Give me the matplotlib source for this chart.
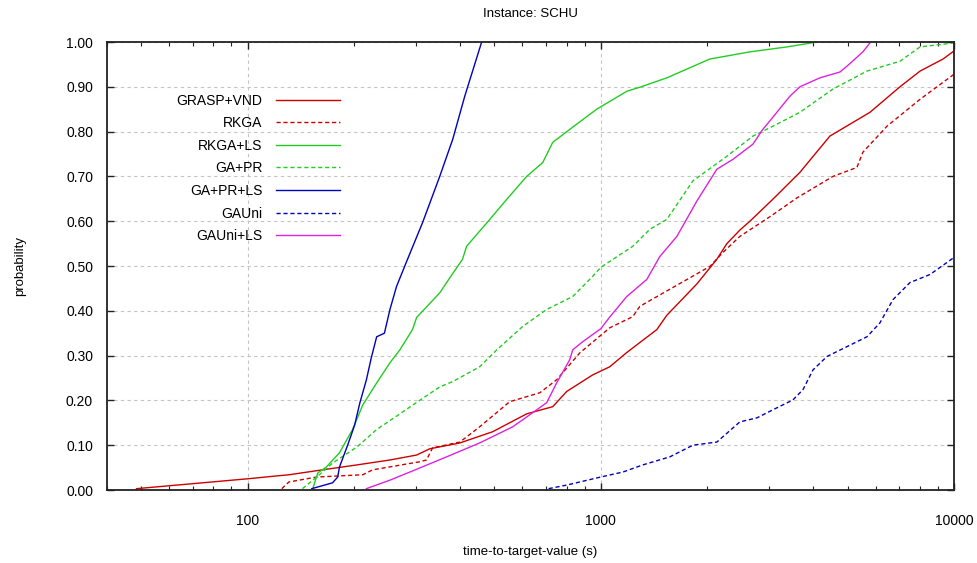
import matplotlib
matplotlib.use("Agg")
import matplotlib.pyplot as plt
from matplotlib.ticker import LogLocator, FixedLocator, FixedFormatter, NullFormatter, FormatStrFormatter

plt.rcParams["font.family"] = ["Liberation Sans", "DejaVu Sans"]

# time-to-target (s) and cumulative probability
grasp_vnd_t = [48.5, 100, 123, 131, 163, 204, 253, 301, 328, 399, 494, 617, 731, 801, 949,
               1060, 1185, 1441, 1538, 1871, 2131, 2275, 2475, 2644, 3070, 3662, 4453,
               5781, 7031, 8012, 9310, 10000]
grasp_vnd_p = [0.003, 0.025, 0.032, 0.034, 0.045, 0.056, 0.067, 0.078, 0.092, 0.105, 0.13,
               0.17, 0.186, 0.22, 0.257, 0.275, 0.307, 0.358, 0.39, 0.46, 0.515, 0.55,
               0.58, 0.60, 0.649, 0.709, 0.79, 0.843, 0.90, 0.935, 0.962, 0.98]

rkga_t = [125, 131, 157, 212, 226, 307, 321, 334, 399, 454, 552, 672, 750, 872, 1060, 1232,
          1290, 1600, 2036, 2216, 2475, 3012, 3592, 4543, 5311, 5522, 6459, 8012, 8948, 10000]
rkga_p = [0.003, 0.018, 0.029, 0.034, 0.045, 0.063, 0.067, 0.094, 0.107, 0.141, 0.197, 0.217,
          0.246, 0.306, 0.362, 0.387, 0.41, 0.452, 0.499, 0.53, 0.566, 0.61, 0.652, 0.70,
          0.72, 0.754, 0.812, 0.872, 0.90, 0.928]

rkga_ls_t = [153, 158, 167, 182, 198, 212, 232, 253, 270, 293, 301, 350, 374, 406, 417, 485,
             542, 617, 685, 731, 833, 974, 1185, 1290, 1538, 2036, 2644, 3365, 4093]
rkga_ls_p = [0.003, 0.038, 0.051, 0.083, 0.134, 0.19, 0.239, 0.284, 0.313, 0.358, 0.385, 0.44,
             0.474, 0.515, 0.544, 0.604, 0.649, 0.70, 0.731, 0.776, 0.81, 0.85, 0.89, 0.899,
             0.92, 0.962, 0.978, 0.989, 1.0]

ga_pr_t = [143, 157, 174, 204, 232, 270, 307, 350, 381, 454, 508, 601, 703, 833, 949, 1000,
           1232, 1377, 1538, 1823, 2275, 2696, 3070, 3662, 4543, 5669, 7031, 8012, 10000]
ga_pr_p = [0.003, 0.029, 0.06, 0.096, 0.135, 0.17, 0.20, 0.23, 0.242, 0.275, 0.313, 0.365,
           0.403, 0.432, 0.477, 0.497, 0.544, 0.582, 0.604, 0.69, 0.745, 0.79, 0.812, 0.843,
           0.895, 0.935, 0.957, 0.989, 0.998]

ga_pr_ls_t = [152, 174, 180, 182, 192, 201, 208, 217, 224, 232, 244, 253, 264, 282, 313, 350,
              381, 412, 460]
ga_pr_ls_p = [0.003, 0.016, 0.029, 0.051, 0.10, 0.145, 0.195, 0.246, 0.295, 0.342, 0.35,
              0.403, 0.454, 0.51, 0.597, 0.70, 0.783, 0.879, 1.0]

gauni_t = [712, 801, 1000, 1154, 1315, 1569, 1823, 2131, 2475, 2767, 3070, 3499, 3736, 3988,
           4368, 4977, 5669, 6169, 6719, 7505, 8549, 10000]
gauni_p = [0.003, 0.011, 0.029, 0.04, 0.056, 0.074, 0.10, 0.107, 0.152, 0.161, 0.179, 0.201,
           0.224, 0.268, 0.298, 0.32, 0.342, 0.373, 0.425, 0.463, 0.481, 0.519]

gauni_ls_t = [217, 253, 307, 366, 454, 563, 617, 703, 750, 817, 833, 889, 1000, 1060, 1185,
              1350, 1469, 1642, 1871, 2131, 2366, 2696, 2876, 3070, 3431, 3662, 4173, 4754,
              4977, 5522, 5781]
gauni_ls_p = [0.003, 0.022, 0.049, 0.074, 0.105, 0.141, 0.163, 0.195, 0.239, 0.291, 0.313,
              0.331, 0.36, 0.386, 0.432, 0.47, 0.521, 0.566, 0.645, 0.716, 0.738, 0.772, 0.805,
              0.832, 0.879, 0.90, 0.92, 0.933, 0.946, 0.978, 0.998]

series = [
    ("GRASP+VND", grasp_vnd_t, grasp_vnd_p, "#cc0000", "-"),
    ("RKGA", rkga_t, rkga_p, "#cc0000", (0, (3, 2))),
    ("RKGA+LS", rkga_ls_t, rkga_ls_p, "#22cc22", "-"),
    ("GA+PR", ga_pr_t, ga_pr_p, "#22cc22", (0, (3, 2))),
    ("GA+PR+LS", ga_pr_ls_t, ga_pr_ls_p, "#0000bb", "-"),
    ("GAUni", gauni_t, gauni_p, "#0000bb", (0, (3, 2))),
    ("GAUni+LS", gauni_ls_t, gauni_ls_p, "#dd22dd", "-"),
]

fig = plt.figure(figsize=(9.78, 5.63), dpi=100)
ax = fig.add_axes([107 / 978, 1 - 490 / 563, 847 / 978, 448 / 563])

for name, t, p, col, ls in series:
    ax.plot(t, p, color=col, linestyle=ls, linewidth=1.0, label=name)

ax.set_xscale("log")
ax.set_xlim(40, 10000)
ax.set_ylim(0, 1)

ax.xaxis.set_major_locator(FixedLocator([100, 1000, 10000]))
ax.xaxis.set_major_formatter(FixedFormatter(["100", "1000", "10000"]))
ax.xaxis.set_minor_locator(LogLocator(base=10, subs=range(2, 10)))
ax.xaxis.set_minor_formatter(NullFormatter())
ax.yaxis.set_major_locator(FixedLocator([i / 10 for i in range(11)]))
ax.yaxis.set_major_formatter(FormatStrFormatter("%.2f"))

ax.tick_params(which="both", direction="in", top=True, right=True, colors="#222222",
               labelcolor="black", labelsize=10)
ax.tick_params(which="major", length=5, width=1)
ax.tick_params(which="minor", length=3, width=0.8)
ax.tick_params(axis="x", pad=17)
ax.tick_params(axis="y", pad=10)

ax.grid(True, which="major", color="#c4c4c4", linestyle=(0, (3, 3)), linewidth=0.8)
for sp in ax.spines.values():
    sp.set_color("#222222")
    sp.set_linewidth(1.3)

ax.set_title("Instance: SCHU", fontsize=9.5, pad=18)
ax.set_xlabel("time-to-target-value (s)", fontsize=9.5, labelpad=13)
ax.set_ylabel("probability", fontsize=9.5, labelpad=29)

ax.legend(loc="upper right", bbox_to_anchor=(0.275, 0.885), frameon=False,
          markerfirst=False, handlelength=4.6, handletextpad=1.0, labelspacing=0.62,
          borderpad=0, borderaxespad=0, fontsize=10)

fig.savefig("out.png", dpi=100)
